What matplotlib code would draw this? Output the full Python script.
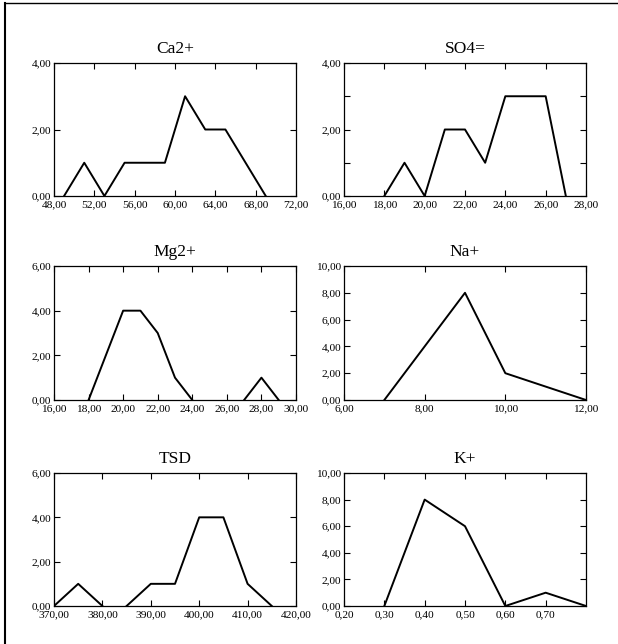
import matplotlib
matplotlib.use('Agg')
import matplotlib.pyplot as plt
from matplotlib.ticker import MultipleLocator, FuncFormatter
from matplotlib.lines import Line2D

plt.rcParams['font.family'] = ['Liberation Serif', 'DejaVu Serif']

# ==============================
# Dados (frequências)
# ==============================
ca_x = [49, 51, 53, 55, 57, 59, 61, 63, 65, 67, 69]
ca_y = [0, 1, 0, 1, 1, 1, 3, 2, 2, 1, 0]

so4_x = [18, 19, 20, 21, 22, 23, 24, 25, 26, 27]
so4_y = [0, 1, 0, 2, 2, 1, 3, 3, 3, 0]

mg_x = [18, 19, 20, 21, 22, 23, 24, None, 27, 28, 29]
mg_y = [0, 2, 4, 4, 3, 1, 0, None, 0, 1, 0]

na_x = [7, 8, 9, 10, 11, 12]
na_y = [0, 4, 8, 2, 1, 0]

tsd_x = [370, 375, 380, None, 385, 390, 395, 400, 405, 410, 415]
tsd_y = [0, 1, 0, None, 0, 1, 1, 4, 4, 1, 0]

k_x = [0.3, 0.4, 0.5, 0.6, 0.7, 0.8]
k_y = [0, 8, 6, 0, 1, 0]

# titulo, x, y, (xmin, xmax, passo x), (ymax, passo y, minor y)
paineis = [
    ('Ca2+', ca_x, ca_y, (48, 72, 4), (4, 2, 2)),
    ('SO4=', so4_x, so4_y, (16, 28, 2), (4, 2, 1)),
    ('Mg2+', mg_x, mg_y, (16, 30, 2), (6, 2, 2)),
    ('Na+', na_x, na_y, (6, 12, 2), (10, 2, 2)),
    ('TSD', tsd_x, tsd_y, (370, 420, 10), (6, 2, 2)),
    ('K+', k_x, k_y, (0.2, 0.8, 0.1), (10, 2, 2)),
]

W, H = 618, 644
fig = plt.figure(figsize=(W / 100, H / 100), dpi=100)

# posições em pixels (esquerda, topo, direita, base)
cols = [(54, 296), (344, 586)]
rows = [(63, 196), (266, 400), (473, 606)]

virgula = FuncFormatter(lambda v, p: f'{v:.2f}'.replace('.', ','))

for i, (titulo, xs, ys, (x0, x1, dx), (ymax, dy, mdy)) in enumerate(paineis):
    l, r = cols[i % 2]
    t, b = rows[i // 2]
    ax = fig.add_axes([l / W, 1 - b / H, (r - l) / W, (b - t) / H])
    xx = [float('nan') if v is None else v for v in xs]
    yy = [float('nan') if v is None else v for v in ys]
    ax.plot(xx, yy, color='black', lw=1.4)
    ax.set_xlim(x0, x1)
    ax.set_ylim(0, ymax)
    ax.xaxis.set_major_locator(MultipleLocator(dx))
    ax.yaxis.set_major_locator(MultipleLocator(dy))
    ax.yaxis.set_minor_locator(MultipleLocator(mdy))
    ax.xaxis.set_major_formatter(virgula)
    ax.yaxis.set_major_formatter(virgula)
    if titulo == 'K+':
        ax.set_xticks([0.2, 0.3, 0.4, 0.5, 0.6, 0.7])
    ax.tick_params(which='both', direction='in', top=True, right=True,
                   labelsize=8.2, width=0.8)
    ax.tick_params(axis='x', pad=3)
    ax.tick_params(axis='y', pad=2)
    ax.tick_params(which='major', length=4)
    ax.tick_params(which='minor', length=4)
    for s in ax.spines.values():
        s.set_linewidth(0.9)
    ax.set_title(titulo, fontsize=12.5, pad=7)

# moldura (topo e esquerda)
fig.add_artist(Line2D([5 / W, 1], [1 - 3 / H, 1 - 3 / H], color='black', lw=1.0))
fig.add_artist(Line2D([5 / W, 5 / W], [0, 1 - 3 / H], color='black', lw=1.5))

fig.savefig('out.png', dpi=100)
